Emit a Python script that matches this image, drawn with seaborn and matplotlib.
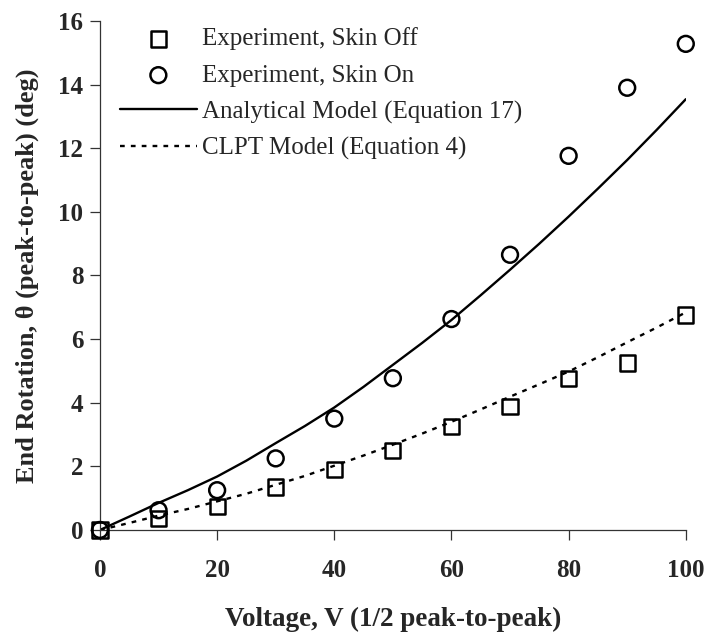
import numpy as np
import pandas as pd
import matplotlib
matplotlib.use("Agg")
import matplotlib.pyplot as plt
import seaborn as sns

voltage = [0, 10, 20, 30, 40, 50, 60, 70, 80, 90, 100]
skin_off = [0, 0.35, 0.75, 1.35, 1.9, 2.5, 3.26, 3.88, 4.75, 5.25, 6.76]
skin_on = [0, 0.62, 1.25, 2.25, 3.5, 4.77, 6.63, 8.65, 11.76, 13.9, 15.28]

# Model curves (every 5 V)
model_v = [0, 5, 10, 15, 20, 25, 30, 35, 40, 45, 50,
           55, 60, 65, 70, 75, 80, 85, 90, 95, 100]
analytical = [0, 0.42, 0.85, 1.25, 1.68, 2.18, 2.73, 3.27, 3.85, 4.5, 5.19,
              5.88, 6.6, 7.38, 8.18, 9.0, 9.85, 10.73, 11.63, 12.57, 13.54]
clpt = [0, 0.22, 0.45, 0.66, 0.9, 1.14, 1.42, 1.7, 2.02, 2.34, 2.68,
        3.03, 3.4, 3.79, 4.19, 4.58, 4.98, 5.43, 5.9, 6.36, 6.84]

exp = pd.DataFrame({"V": voltage, "off": skin_off, "on": skin_on})
mod = pd.DataFrame({"V": model_v, "ana": analytical, "clpt": clpt})

sns.set_style("ticks")
plt.rcParams["font.family"] = ["Liberation Serif", "DejaVu Serif"]

fig = plt.figure(figsize=(7.07, 6.35), dpi=100)
ax = fig.add_axes([0.1414, 0.1654, 0.8286, 0.8016])

sns.scatterplot(data=exp, x="V", y="off", ax=ax, marker="s", s=120,
                facecolor="none", edgecolor="black", linewidth=1.8,
                label="Experiment, Skin Off", clip_on=False, zorder=3)
sns.scatterplot(data=exp, x="V", y="on", ax=ax, marker="o", s=130,
                facecolor="none", edgecolor="black", linewidth=1.8,
                label="Experiment, Skin On", clip_on=False, zorder=3)
sns.lineplot(data=mod, x="V", y="ana", ax=ax, color="black", linewidth=1.7,
             label="Analytical Model (Equation 17)")
sns.lineplot(data=mod, x="V", y="clpt", ax=ax, color="black", linewidth=1.7,
             dashes=False, linestyle=(0, (2.0, 2.6)),
             label="CLPT Model (Equation 4)")

ax.set_xlim(0, 100)
ax.set_ylim(0, 16)
ax.set_xticks(np.arange(0, 101, 20))
ax.set_yticks(np.arange(0, 17, 2))
sns.despine(ax=ax)
for sp in ["left", "bottom"]:
    ax.spines[sp].set_linewidth(0.9)
    ax.spines[sp].set_color("#333333")
ax.tick_params(direction="out", length=7, width=0.9, color="#333333",
               labelsize=18, pad=5)
ax.tick_params(axis="x", pad=14)
for lab in ax.get_xticklabels() + ax.get_yticklabels():
    lab.set_fontweight("bold")

ax.set_xlabel("Voltage, V (1/2 peak-to-peak)", fontsize=19.5,
              fontweight="bold", labelpad=18)
ax.set_ylabel("End Rotation, θ (peak-to-peak) (deg)", fontsize=19,
              fontweight="bold", labelpad=14)

leg = ax.legend(loc="upper left", bbox_to_anchor=(0.025, 0.997), frameon=False,
                fontsize=18, handlelength=3.1, labelspacing=0.55,
                handletextpad=0.2, borderaxespad=0.0, borderpad=0.2)

fig.savefig("out.png", dpi=100)
